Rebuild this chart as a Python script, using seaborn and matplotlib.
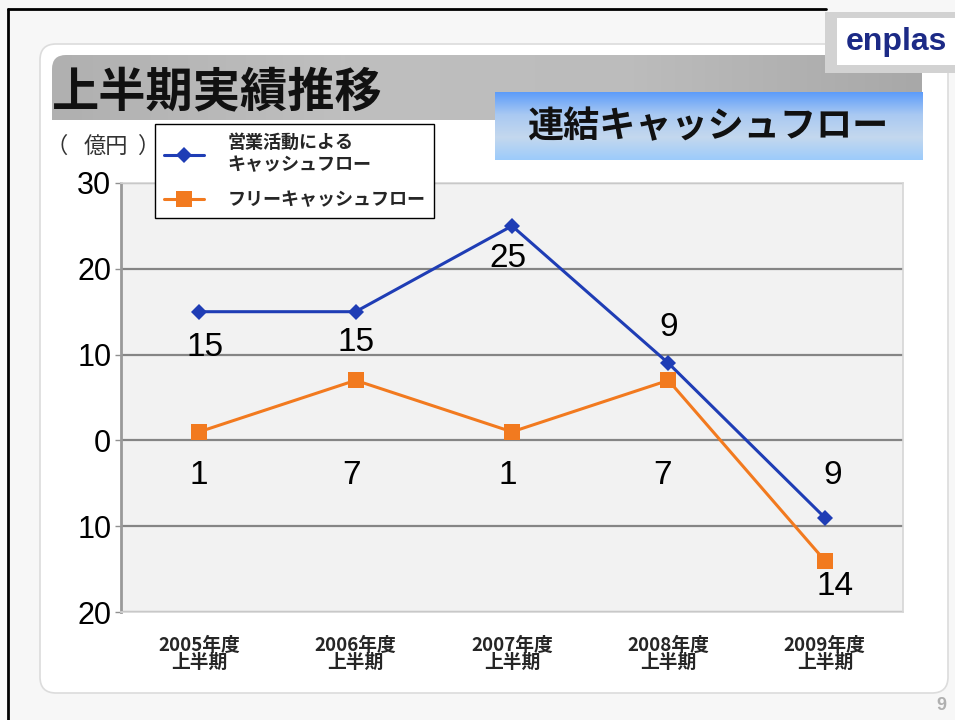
import numpy as np
import pandas as pd
import matplotlib
matplotlib.use("Agg")
import matplotlib.pyplot as plt
import seaborn as sns
from matplotlib.patches import FancyBboxPatch, Rectangle
from matplotlib.colors import LinearSegmentedColormap

# ---------------- data ----------------
periods = ["2005年度\n上半期", "2006年度\n上半期", "2007年度\n上半期",
           "2008年度\n上半期", "2009年度\n上半期"]
operating_cf = [15, 15, 25, 9, -9]
free_cf = [1, 7, 1, 7, -14]
series_names = ["営業活動による\nキャッシュフロー", "フリーキャッシュフロー"]
y_ticks = [30, 20, 10, 0, -10, -20]
y_tick_labels = ["30", "20", "10", "0", "10", "20"]
title_text = "上半期実績推移"
box_text = "連結キャッシュフロー"
unit_parts = ["（", "億円", "）"]
logo_text = "enplas"
page_no = "9"

# label offsets in pixels (styling)
op_offsets = [(6, -36), (0, -31), (-4, -33), (0, 36), (8, 42)]
fr_offsets = [(0, -44), (-4, -95), (-4, -44), (-6, -95), (10, -26)]

df = pd.DataFrame({
    "period": periods * 2,
    "value": operating_cf + free_cf,
    "series": [series_names[0]] * len(periods) + [series_names[1]] * len(periods),
})

sns.set_theme(style="white")
plt.rcParams['font.family'] = ['Liberation Sans', 'Noto Sans CJK JP', 'DejaVu Sans']

W, H = 955, 720
fig = plt.figure(figsize=(W / 100, H / 100), dpi=100)
fig.patch.set_facecolor('#f7f7f7')

# ---------------- decoration layer (pixel coordinates) ----------------
bg = fig.add_axes([0, 0, 1, 1], zorder=-10)
bg.axis('off')
bg.patch.set_alpha(0)

bg.plot([8, 826], [9, 9], color='black', lw=2)
bg.plot([8, 8], [9, 720], color='black', lw=2)

# inner white rounded panel
panel = FancyBboxPatch((40, 44), 908, 649, boxstyle="round,pad=0,rounding_size=16",
                       fc='white', ec='#dcdcdc', lw=1.2, zorder=1)
bg.add_patch(panel)

# grey title band with gradient
gray_cmap = LinearSegmentedColormap.from_list("g", ['#b0b0b0', '#bfbfbf', '#bcbcbc', '#a8a8a8'])
grad = np.linspace(0, 1, 256).reshape(1, -1)
band = FancyBboxPatch((52, 55), 870, 65, boxstyle="round,pad=0,rounding_size=14",
                      fc='none', ec='none', zorder=2)
bg.add_patch(band)
im = bg.imshow(grad, cmap=gray_cmap, extent=(52, 922, 120, 55), aspect='auto', zorder=2)
im.set_clip_path(band)
bg.add_patch(Rectangle((52, 100), 30, 20, fc='#b0b0b0', ec='none', zorder=2))
bg.text(52, 92, title_text, fontsize=34, fontweight='bold', color='#111111',
        family=['Noto Sans CJK JP'], va='center', ha='left', zorder=5)

# blue box with vertical gradient
blue_cmap = LinearSegmentedColormap.from_list("b", ['#5c9cfa', '#a9c9f2', '#c4d8ee', '#9ccbfb'])
vgrad = np.linspace(0, 1, 256).reshape(-1, 1)
bg.imshow(vgrad, cmap=blue_cmap, extent=(495, 922, 160, 92), aspect='auto', zorder=3)
bg.text(708, 127, box_text, fontsize=26, fontweight='bold', color='#111111',
        family=['Noto Sans CJK JP'], va='center', ha='center', zorder=5)

# logo
bg.add_patch(Rectangle((825, 12), 130, 61, fc='#d2d2d2', ec='none', zorder=2))
bg.add_patch(Rectangle((837, 18), 118, 47, fc='white', ec='none', zorder=3))
bg.text(896, 42, logo_text, fontsize=23, fontweight='bold', color='#1c2a86',
        family=['Liberation Sans'], va='center', ha='center', zorder=5)

# unit label and page number
for part, x in zip(unit_parts, [57, 106, 149]):
    bg.text(x, 146, part, fontsize=16, color='#333333',
            family=['Noto Sans CJK JP'], va='center', ha='center', zorder=5)
bg.text(941, 706, page_no, fontsize=13, fontweight='bold', color='#b0b0b0',
        va='center', ha='center', zorder=5)

bg.set_xlim(0, W)
bg.set_ylim(H, 0)

# ---------------- chart ----------------
ax = fig.add_axes([121 / W, 1 - 612 / H, (903 - 121) / W, (612 - 183) / H])
ax.set_facecolor('#f2f2f2')

palette = {series_names[0]: '#1f3db5', series_names[1]: '#f27a1f'}
markers = {series_names[0]: 'D', series_names[1]: 's'}
sns.lineplot(data=df, x="period", y="value", hue="series", style="series",
             palette=palette, markers=markers, dashes=False, sort=False,
             linewidth=2.2, markersize=9, markeredgewidth=0, ax=ax)
for ln, ms in zip(ax.lines[:2], [8, 11]):
    ln.set_markersize(ms)
if ax.get_legend() is not None:
    ax.get_legend().remove()

ax.set_xlim(-0.5, 4.5)
ax.set_ylim(-20, 30)
ax.set_yticks(y_ticks)
ax.set_yticklabels(y_tick_labels, fontsize=22, color='black')
ax.yaxis.grid(True, color='#858585', lw=1.6)
ax.xaxis.grid(False)
ax.set_axisbelow(True)
ax.set_xlabel("")
ax.set_ylabel("")
for lbl in ax.get_xticklabels():
    lbl.set_fontsize(13.5)
    lbl.set_fontweight('bold')
    lbl.set_family(['Liberation Sans Narrow', 'Noto Sans CJK JP'])
    lbl.set_linespacing(0.9)
ax.tick_params(axis='x', length=0, pad=17)
ax.tick_params(axis='y', length=4, width=1, color='#909090', pad=3, left=True)

for side in ['top', 'right', 'bottom']:
    ax.spines[side].set_color('#d6d6d6')
    ax.spines[side].set_linewidth(1.2)
ax.spines['left'].set_color('#9a9a9a')
ax.spines['left'].set_linewidth(2)

for i, (v, off) in enumerate(zip(operating_cf, op_offsets)):
    ax.annotate(str(abs(v)), (i, v), xytext=off, textcoords='offset pixels',
                ha='center', va='center', fontsize=24, color='black')
for i, (v, off) in enumerate(zip(free_cf, fr_offsets)):
    ax.annotate(str(abs(v)), (i, v), xytext=off, textcoords='offset pixels',
                ha='center', va='center', fontsize=24, color='black')

# legend
leg = fig.legend(handles=ax.lines[:2], labels=series_names,
                 loc='upper left', bbox_to_anchor=(155 / W, 1 - 124 / H),
                 bbox_transform=fig.transFigure, borderaxespad=0,
                 frameon=True, fancybox=False, framealpha=1, edgecolor='black',
                 prop={'family': ['Noto Sans CJK JP'], 'weight': 'bold', 'size': 13},
                 handlelength=2.2, handletextpad=1.3, labelspacing=0.9,
                 borderpad=0.5)
leg.get_frame().set_linewidth(1.0)
leg.set_zorder(20)

fig.savefig("out.png", dpi=100, facecolor=fig.get_facecolor())
